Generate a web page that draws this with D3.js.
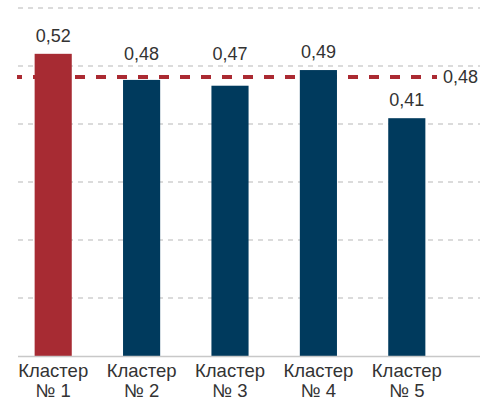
<!DOCTYPE html>
<html>
<head>
<meta charset="utf-8">
<title>Кластеры</title>
<script src="https://d3js.org/d3.v7.min.js"></script>
<style>
  body { margin: 0; background: #fff; }
  text { font-family: "Liberation Sans", Arial, sans-serif; fill: #333; }
</style>
</head>
<body>
<svg id="chart" width="480" height="401"></svg>
<script>
// data (labels show values rounded to 2 decimals)
var clusters = ["Кластер|№ 1", "Кластер|№ 2", "Кластер|№ 3", "Кластер|№ 4", "Кластер|№ 5"];
var values = [0.521, 0.476, 0.466, 0.493, 0.41];
var average = 0.481;
var gridTicks = [0.1, 0.2, 0.3, 0.4, 0.5, 0.6];

var fmt = function(v) { return d3.format(".2f")(v).replace(".", ","); };

var svg = d3.select("#chart");
var plotLeft = 18, plotRight = 480, plotTop = 8, plotBottom = 356;

var x = d3.scaleBand()
  .domain(clusters)
  .range([9, 451])
  .paddingInner(0.58)
  .paddingOuter(0.29);

var y = d3.scaleLinear()
  .domain([0, 0.6])
  .range([plotBottom, plotTop]);

// dashed grid lines
svg.append("g").selectAll("line")
  .data(gridTicks)
  .enter().append("line")
  .attr("x1", plotLeft).attr("x2", plotRight)
  .attr("y1", function(d) { return y(d); })
  .attr("y2", function(d) { return y(d); })
  .attr("stroke", "#cfcfcf")
  .attr("stroke-width", 1.5)
  .attr("stroke-dasharray", "5,5");

// average line (drawn under the bars)
svg.append("line")
  .attr("x1", 17).attr("x2", 437)
  .attr("y1", y(average)).attr("y2", y(average))
  .attr("stroke", "#ab2a32")
  .attr("stroke-width", 4)
  .attr("stroke-dasharray", "10,11")
  .attr("stroke-dashoffset", 5);

svg.append("text")
  .attr("x", 443)
  .attr("y", y(average) + 6)
  .style("font-size", "18px")
  .text(fmt(average));

// bars
svg.append("g").selectAll("rect")
  .data(values)
  .enter().append("rect")
  .attr("x", function(d, i) { return x(clusters[i]); })
  .attr("width", x.bandwidth())
  .attr("y", function(d) { return y(d); })
  .attr("height", function(d) { return y(0) - y(d); })
  .attr("fill", function(d, i) { return i === 0 ? "#a72b33" : "#003a5d"; });

// baseline
svg.append("line")
  .attr("x1", plotLeft).attr("x2", plotRight)
  .attr("y1", y(0) + 0.5).attr("y2", y(0) + 0.5)
  .attr("stroke", "#c8c8c8")
  .attr("stroke-width", 1.5);

// value labels: bars ending just under the average line get lifted above it
svg.append("g").selectAll("text")
  .data(values)
  .enter().append("text")
  .attr("x", function(d, i) { return x(clusters[i]) + x.bandwidth() / 2; })
  .attr("y", function(d) {
    var top = y(d), avg = y(average);
    if (top >= avg && top - avg < 15) return avg - 17;
    return top - 12;
  })
  .attr("text-anchor", "middle")
  .style("font-size", "18px")
  .text(function(d) { return fmt(d); });

// category labels
var cat = svg.append("g").selectAll("text")
  .data(clusters)
  .enter().append("text")
  .attr("text-anchor", "middle")
  .style("font-size", "18.5px")
  .attr("transform", function(d) { return "translate(" + (x(d) + x.bandwidth() / 2) + "," + 377 + ")"; });

cat.selectAll("tspan")
  .data(function(d) { return d.split("|"); })
  .enter().append("tspan")
  .attr("x", 0)
  .attr("dy", function(d, i) { return i === 0 ? 0 : 20; })
  .text(function(d) { return d; });
</script>
</body>
</html>
